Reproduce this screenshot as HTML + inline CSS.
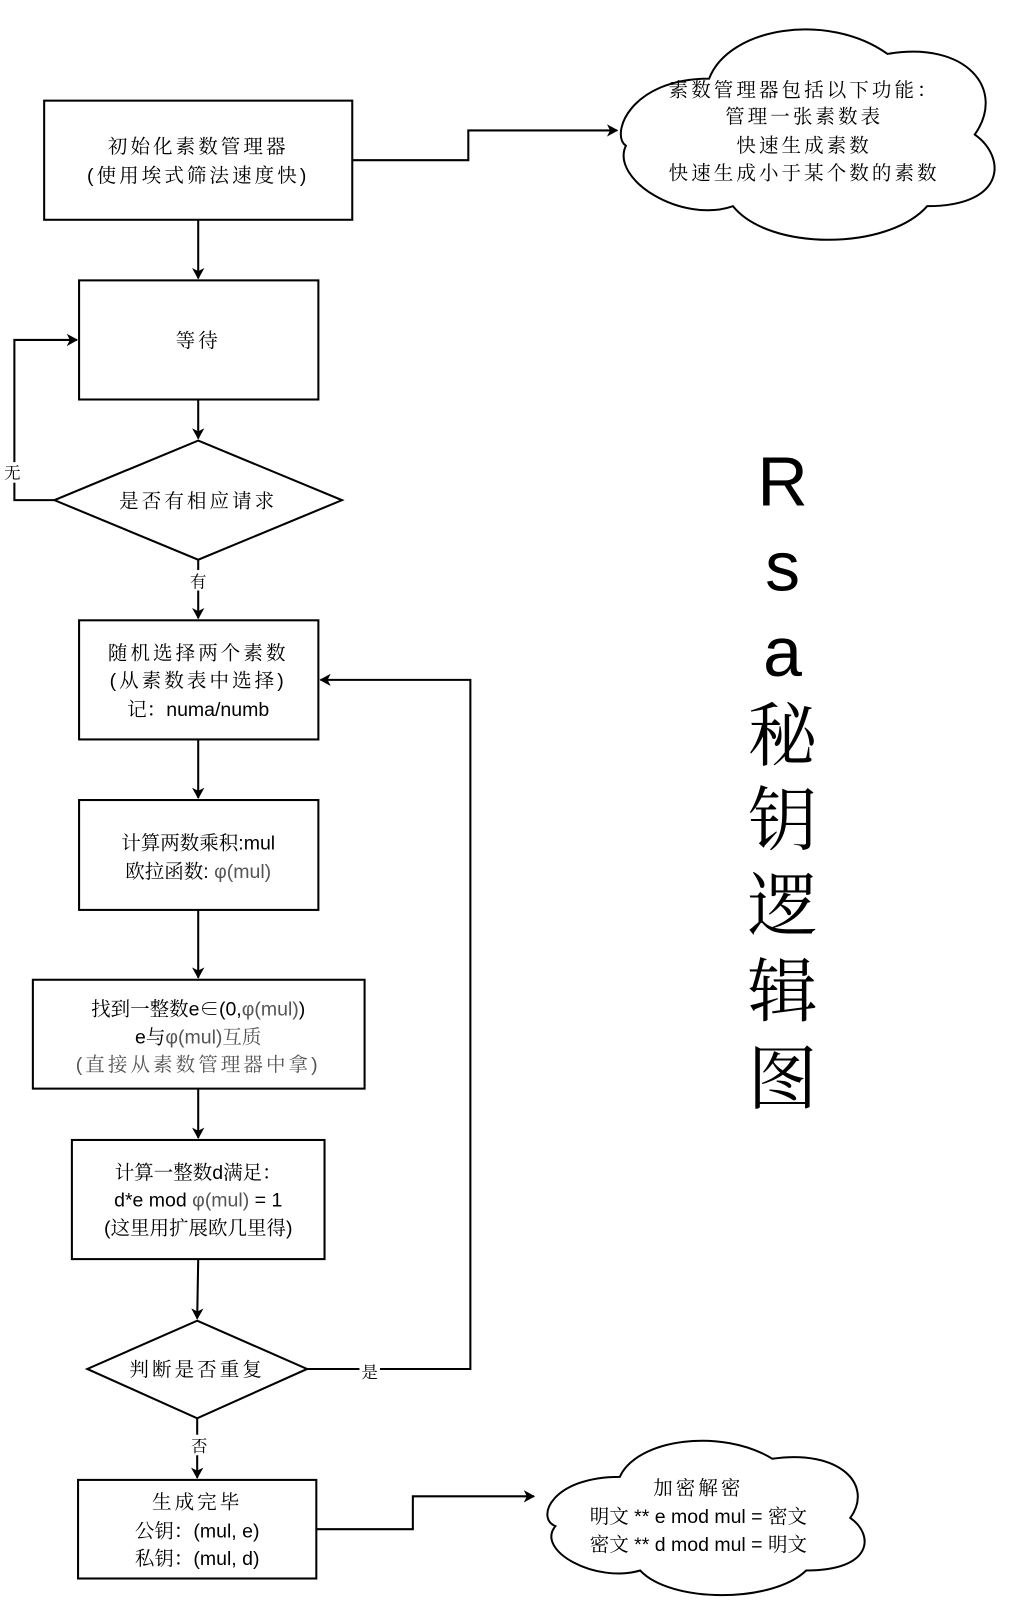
<!DOCTYPE html>
<html><head><meta charset="utf-8"><style>
html,body{margin:0;padding:0;background:#fff;}
svg{display:block;}
text{font-family:"Liberation Sans","Noto Serif CJK SC",serif;font-size:19px;fill:#000;text-anchor:middle;}
.c{letter-spacing:3px;}
.g{fill:#555;}
.big{font-size:68px;}
</style></head><body>
<svg width="1026" height="1612" viewBox="0 0 1026 1612" xmlns="http://www.w3.org/2000/svg">
<defs>
<marker id="a" markerWidth="12" markerHeight="12" refX="10" refY="6" orient="auto" markerUnits="userSpaceOnUse">
<path d="M0,0 L11,6 L0,12 L3,6 Z" fill="#000"/></marker>
</defs>
<g transform="scale(1.027)">
<g fill="none" stroke="#000" stroke-width="2">
<rect x="43" y="98" width="300" height="116"/>
<rect x="77" y="273" width="233" height="116"/>
<polygon points="193,429 333,487 193,545 53,487"/>
<rect x="77" y="604" width="233" height="116"/>
<rect x="77" y="779" width="233" height="107"/>
<rect x="32" y="954" width="323" height="106"/>
<rect x="70" y="1110" width="246" height="116"/>
<polygon points="192,1286 299,1333 192,1381 85,1333"/>
<rect x="76" y="1441" width="232" height="96"/>
<path d="M343,156 H456 V127 H601" marker-end="url(#a)"/>
<path d="M193,214 V271" marker-end="url(#a)"/>
<path d="M193,389 V427" marker-end="url(#a)"/>
<path d="M53,487 H14 V331 H75" marker-end="url(#a)"/>
<path d="M193,545 V602" marker-end="url(#a)"/>
<path d="M193,720 V777" marker-end="url(#a)"/>
<path d="M193,886 V952" marker-end="url(#a)"/>
<path d="M193,1060 V1108" marker-end="url(#a)"/>
<path d="M193,1226 L192,1284" marker-end="url(#a)"/>
<path d="M299,1333 H458 V662 H312" marker-end="url(#a)"/>
<path d="M192,1381 V1439" marker-end="url(#a)"/>
<path d="M308,1489 H402 V1457 H520" marker-end="url(#a)"/>
<g transform="translate(594,22) scale(386,218)"><path vector-effect="non-scaling-stroke" d="M0.25,0.25 C0.05,0.25 0,0.5 0.04,0.55 C0,0.7 0.18,0.9 0.31,0.82 C0.4,1.02 0.7,1.02 0.8,0.82 C1,0.82 1,0.6 0.92,0.5 C1,0.3 0.9,0.08 0.7,0.14 C0.55,-0.05 0.3,0.02 0.25,0.25 Z"/></g>
<g transform="translate(521,1398) scale(330,160)"><path vector-effect="non-scaling-stroke" d="M0.25,0.25 C0.05,0.25 0,0.5 0.06,0.55 C0,0.7 0.18,0.9 0.31,0.82 C0.4,1.02 0.7,1.02 0.8,0.82 C1,0.82 1,0.6 0.93,0.5 C1,0.3 0.9,0.08 0.7,0.14 C0.55,-0.05 0.3,0.02 0.25,0.25 Z"/></g>
</g>
<rect x="4" y="450" width="18" height="20" fill="#fff"/>
<text x="12" y="466" style="font-size:16px">无</text>
<rect x="183" y="555" width="20" height="20" fill="#fff"/>
<text x="193" y="572" style="font-size:16px">有</text>
<rect x="350" y="1325" width="20" height="20" fill="#fff"/>
<text x="360" y="1342" style="font-size:16px">是</text>
<rect x="184" y="1397" width="20" height="20" fill="#fff"/>
<text x="194" y="1414" style="font-size:16px">否</text>

<text class="c" x="193" y="149">初始化素数管理器</text>
<text class="c" x="193" y="177">(使用埃式筛法速度快)</text>
<text class="c" x="193" y="338">等待</text>
<text class="c" x="193" y="494">是否有相应请求</text>
<text class="c" x="193" y="642">随机选择两个素数</text>
<text class="c" x="193" y="669">(从素数表中选择)</text>
<text x="193" y="697">记：numa/numb</text>
<text x="193" y="827">计算两数乘积:mul</text>
<text x="193" y="855">欧拉函数: <tspan class="g">φ(mul)</tspan></text>
<text x="193" y="989">找到一整数e∈(0,<tspan class="g">φ(mul)</tspan>)</text>
<text x="193" y="1016">e与<tspan class="g">φ(mul)互质</tspan></text>
<text class="c g" x="193" y="1043">(直接从素数管理器中拿)</text>
<text x="193" y="1148">计算一整数d满足：</text>
<text x="193" y="1175">d*e mod <tspan class="g">φ(mul)</tspan> = 1</text>
<text x="193" y="1202">(这里用扩展欧几里得)</text>
<text class="c" x="192" y="1340">判断是否重复</text>
<text class="c" x="192" y="1469">生成完毕</text>
<text x="192" y="1497">公钥：(mul, e)</text>
<text x="192" y="1524">私钥：(mul, d)</text>
<text class="c" x="783" y="94">素数管理器包括以下功能：</text>
<text class="c" x="783" y="120">管理一张素数表</text>
<text class="c" x="783" y="148">快速生成素数</text>
<text class="c" x="783" y="175">快速生成小于某个数的素数</text>
<text class="c" x="680" y="1455">加密解密</text>
<text x="680" y="1483">明文 ** e mod mul = 密文</text>
<text x="680" y="1510">密文 ** d mod mul = 明文</text>
<text class="big" x="762" y="492">R</text>
<text class="big" x="762" y="575">s</text>
<text class="big" x="762" y="658">a</text>
<text class="big" x="762" y="740">秘</text>
<text class="big" x="762" y="822">钥</text>
<text class="big" x="762" y="905">逻</text>
<text class="big" x="762" y="989">辑</text>
<text class="big" x="762" y="1074">图</text>
</g>
</svg>
</body></html>
